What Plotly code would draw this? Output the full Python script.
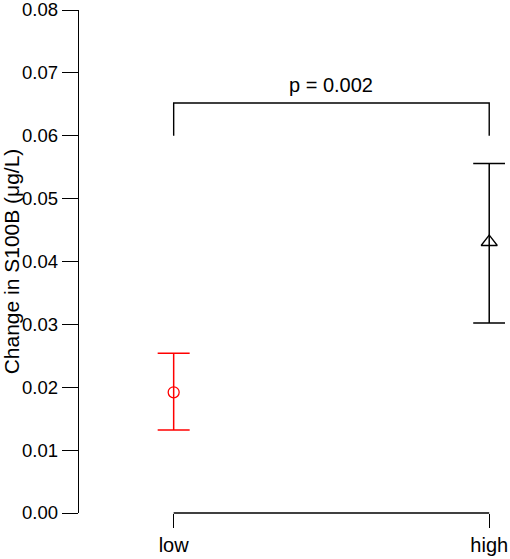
import plotly.graph_objects as go

groups = ["low", "high"]
group_pos = [1, 2]
means = [0.0192, 0.0431]
ci_low = [0.0132, 0.0302]
ci_high = [0.0254, 0.0556]
colors = ["#FF0000", "#000000"]
symbols = ["circle-open", "triangle-up-open"]
sizes = [11, 14]

bracket_x = [1, 1, 2, 2]
bracket_y = [0.060, 0.0652, 0.0652, 0.060]
p_label = "p = 0.002"
p_y = 0.068

y_ticks = [0.00, 0.01, 0.02, 0.03, 0.04, 0.05, 0.06, 0.07, 0.08]

FONT = "Arial, Liberation Sans, sans-serif"
FS = 20

fig = go.Figure()

for i, g in enumerate(groups):
    fig.add_trace(
        go.Scatter(
            x=[group_pos[i]],
            y=[means[i]],
            mode="markers",
            name=g,
            marker={
                "symbol": symbols[i],
                "size": sizes[i],
                "color": colors[i],
                "line": {"color": colors[i], "width": 1.3},
            },
            error_y={
                "type": "data",
                "symmetric": False,
                "array": [ci_high[i] - means[i]],
                "arrayminus": [means[i] - ci_low[i]],
                "color": colors[i],
                "thickness": 1.5,
                "width": 16,
            },
            cliponaxis=False,
            showlegend=False,
        )
    )

fig.add_trace(
    go.Scatter(
        x=bracket_x,
        y=bracket_y,
        mode="lines",
        line={"color": "#000000", "width": 1.4},
        showlegend=False,
        hoverinfo="skip",
    )
)

fig.add_annotation(
    x=(group_pos[0] + group_pos[1]) / 2,
    y=p_y,
    text=p_label,
    showarrow=False,
    font={"family": FONT, "size": FS, "color": "#000000"},
)

# bottom axis line only between the two groups (R-style)
fig.add_shape(
    type="line",
    xref="x",
    yref="paper",
    x0=group_pos[0],
    x1=group_pos[-1],
    y0=0,
    y1=0,
    line={"color": "#000000", "width": 1.4},
)

fig.update_layout(
    width=510,
    height=559,
    margin={"l": 79, "r": 5, "t": 10, "b": 46},
    paper_bgcolor="white",
    plot_bgcolor="white",
    font={"family": FONT, "size": FS, "color": "#000000"},
    showlegend=False,
)
fig.update_xaxes(
    range=[0.7, 2.05],
    tickvals=group_pos,
    ticktext=groups,
    ticks="outside",
    ticklen=14,
    tickwidth=1.4,
    tickcolor="#000000",
    showline=False,
    showgrid=False,
    zeroline=False,
    automargin=False,
    tickfont={"family": FONT, "size": FS},
)
fig.update_yaxes(
    range=[0, 0.08],
    tickvals=y_ticks,
    tickformat=".2f",
    ticks="outside",
    ticklen=16,
    tickwidth=1.4,
    tickcolor="#000000",
    showline=True,
    linecolor="#000000",
    linewidth=1.4,
    showgrid=False,
    zeroline=False,
    automargin=False,
    ticklabeloverflow="allow",
    tickfont={"family": FONT, "size": 18.5},
    title={"text": "Change in S100B (μg/L)", "font": {"family": FONT, "size": 21}, "standoff": 2},
)

fig.write_html(
    "out.html",
    config={"displayModeBar": False},
    post_script="document.body.style.margin = '0';",
)
